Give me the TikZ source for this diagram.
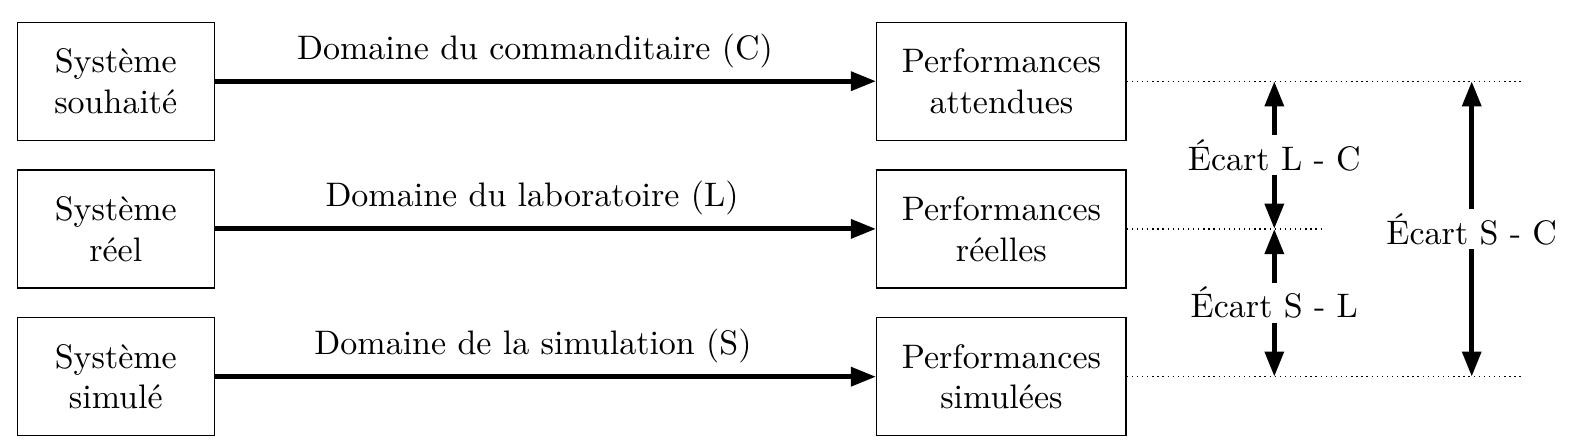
\documentclass[tikz,border=0pt]{standalone}
\usetikzlibrary{arrows.meta}
\begin{document}
\begin{tikzpicture}[x=0.2941pt,y=-0.2941pt,
  sysbox/.style={draw,line width=0.4pt,align=center,inner sep=0pt,minimum width=57.9pt,minimum height=34.7pt},
  perfbox/.style={draw,line width=0.4pt,align=center,inner sep=0pt,minimum width=73.3pt,minimum height=34.7pt},
  bigarr/.style={line width=1.5pt,-{Triangle[length=7.4pt,width=5.4pt]}},
  gaparr/.style={line width=1.5pt,{Triangle[length=7.4pt,width=5.4pt]}-{Triangle[length=7.4pt,width=5.4pt]}},
  gaplabel/.style={fill=white,inner sep=1.2pt},
  guide/.style={line width=0.4pt,dash pattern=on 0.4pt off 1.1pt}]
\useasboundingbox (0,0) rectangle (1572,444);
% left boxes
\node[sysbox] (s1) at (115.8,81.2) {Système\\souhaité};
\node[sysbox] (s2) at (115.8,228.9) {Système\\réel};
\node[sysbox] (s3) at (115.8,376.7) {Système\\simulé};
% right boxes
\node[perfbox] (p1) at (1001.4,81.2) {Performances\\attendues};
\node[perfbox] (p2) at (1001.4,228.9) {Performances\\réelles};
\node[perfbox] (p3) at (1001.4,376.7) {Performances\\simulées};
% horizontal arrows
\draw[bigarr] (s1) -- (p1);
\draw[bigarr] (s2) -- (p2);
\draw[bigarr] (s3) -- (p3);
% labels
\node[anchor=base] (l1) at (535,59.5) {Domaine du commanditaire (C)};
\node[anchor=base] (l2) at (532,206.5) {Domaine du laboratoire (L)};
\node[anchor=base] (l3) at (533,354) {Domaine de la simulation (S)};
% guide lines
\coordinate (g1) at (1522,81.2);
\coordinate (g2) at (1322,228.9);
\coordinate (g3) at (1522,376.7);
\draw[guide] (p1.east) -- (g1);
\draw[guide] (p2.east) -- (g2);
\draw[guide] (p3.east) -- (g3);
% gap arrows
\coordinate (a1) at (1274.3,81.2);
\coordinate (a2) at (1274.3,228.9);
\coordinate (a3) at (1274.3,376.7);
\coordinate (b1) at (1471.7,81.2);
\coordinate (b3) at (1471.7,376.7);
\draw[gaparr] (a1) -- node[gaplabel] (e1) {Écart L - C} (a2);
\draw[gaparr] (a2) -- node[gaplabel] (e2) {Écart S - L} (a3);
\draw[gaparr] (b1) -- node[gaplabel] (e3) {Écart S - C} (b3);
\end{tikzpicture}
\end{document}
